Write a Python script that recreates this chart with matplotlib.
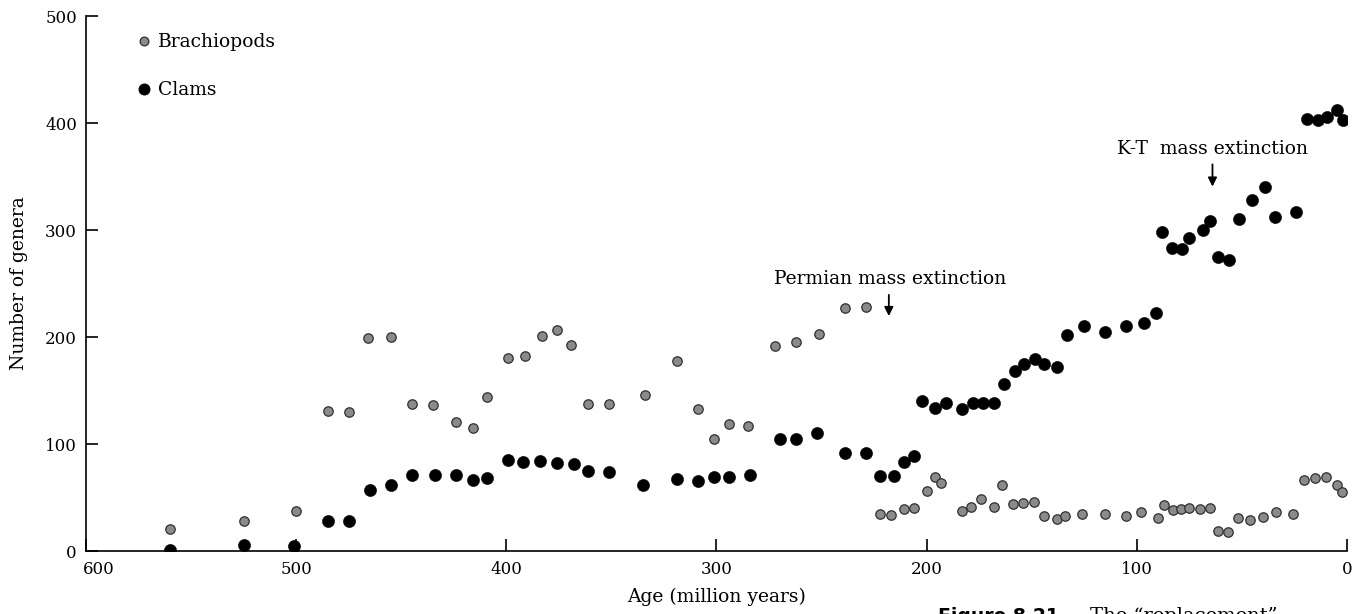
import matplotlib
matplotlib.use("Agg")
import matplotlib.pyplot as plt
import matplotlib.transforms as mtransforms
from matplotlib.lines import Line2D

# ---- data (ages in million years, number of genera) ----
brach_age = [560, 525, 500, 485, 475, 466, 455, 445, 435, 424, 416, 409,
             399, 391, 383, 376, 369, 361, 351, 334, 319, 309, 301, 294,
             285, 272, 262, 251, 239, 229, 222, 217, 211, 206, 200, 196,
             193, 183, 179, 174, 168, 164, 159, 154, 149, 144, 138, 134,
             126, 115, 105, 98, 90, 87, 83, 79, 75, 70, 65, 61.5, 56.5,
             52, 46, 40, 34, 25.5, 20.5, 15.3, 10, 4.6, 2.4]
brach_val = [21, 28, 37, 131, 130, 199, 200, 137, 136, 121, 115, 144,
             180, 182, 201, 207, 193, 137, 137, 146, 178, 133, 105, 119,
             117, 192, 195, 203, 227, 228, 35, 34, 39, 40, 56, 69,
             64, 37, 41, 49, 41, 62, 44, 45, 46, 33, 30, 33,
             35, 35, 33, 36, 31, 43, 38, 39, 40, 39, 40, 19, 18,
             31, 29, 32, 36, 35, 66, 68, 69, 62, 55]

clam_age = [560, 525, 501, 485, 475, 465, 455, 445, 434, 424, 416, 409,
            399, 392, 384, 376, 368, 361, 351, 335, 319, 309, 301, 294,
            284, 270, 262, 252, 239, 229, 222, 215.5, 211, 206, 202, 196,
            191, 183, 178, 173, 168, 163, 158, 153.5, 148.6, 144, 138,
            133, 125, 115, 105, 96.6, 90.7, 88, 83.3, 78.3, 75, 68.6, 65,
            61.5, 56.3, 51.4, 45.4, 39.2, 34.3, 24.3, 19.1, 13.9, 9.3,
            4.7, 1.9]
clam_val = [1, 6, 5, 28, 28, 57, 62, 71, 71, 71, 66, 68,
            85, 83, 84, 82, 81, 75, 74, 62, 67, 65, 69, 69,
            71, 105, 105, 110, 92, 92, 70, 70, 83, 89, 140, 134,
            138, 133, 138, 138, 138, 156, 168, 175, 179, 175, 172,
            202, 210, 205, 210, 213, 222, 298, 283, 282, 293, 300, 308,
            275, 272, 310, 328, 340, 312, 317, 404, 403, 406, 412, 403]

x_ticks = [600, 500, 400, 300, 200, 100, 0]
y_ticks = [0, 100, 200, 300, 400, 500]

# ---- figure ----
plt.rcParams['font.family'] = ['DejaVu Serif']
TFS = 12      # tick labels
LFS = 13.5    # axis labels and annotations
fig = plt.figure(figsize=(13.61, 6.14), dpi=100)
ax = fig.add_axes([0.0632, 0.1026, 0.9265, 0.8713])

ax.scatter(brach_age, brach_val, s=46, color='#8a8a8a', edgecolors='#303030',
           linewidths=0.9, zorder=3)
ax.scatter(clam_age, clam_val, s=76, color='black', edgecolors='black',
           linewidths=0.4, zorder=3)

ax.set_xlim(600, 0)
ax.set_ylim(0, 500)
ax.set_xticks(x_ticks)
ax.set_yticks(y_ticks)
ax.tick_params(direction='in', length=8.5, width=1.2, labelsize=TFS)
ax.tick_params(axis='x', pad=7)
ax.tick_params(axis='y', pad=6.5)
for s in ['top', 'right']:
    ax.spines[s].set_visible(False)
for s in ['left', 'bottom']:
    ax.spines[s].set_linewidth(1.2)

# first x tick label starts at the axis corner, as in the original
fig.canvas.draw()
first = ax.get_xticklabels()[0]
first.set_horizontalalignment('left')
first.set_transform(first.get_transform() +
                    mtransforms.ScaledTranslation(-2 / 72, 0, fig.dpi_scale_trans))

ax.set_xlabel('Age (million years)', fontsize=LFS, labelpad=7)
ax.set_ylabel('Number of genera', fontsize=LFS, labelpad=12)

# annotations
ax.annotate('', xy=(218, 217), xytext=(218, 242),
            arrowprops=dict(arrowstyle='-|>', color='black', lw=1.3,
                            mutation_scale=13))
ax.text(217.2, 254, 'Permian mass extinction', ha='center', va='center',
        fontsize=LFS)
ax.annotate('', xy=(64, 338), xytext=(64, 364),
            arrowprops=dict(arrowstyle='-|>', color='black', lw=1.3,
                            mutation_scale=13))
ax.text(64.2, 375.6, 'K-T  mass extinction', ha='center', va='center',
        fontsize=LFS)

# legend
handles = [Line2D([], [], linestyle='none', marker='o', markersize=6.3,
                  markerfacecolor='#8a8a8a', markeredgecolor='#303030',
                  markeredgewidth=0.9),
           Line2D([], [], linestyle='none', marker='o', markersize=7.6,
                  markerfacecolor='black', markeredgecolor='black')]
ax.legend(handles, ['Brachiopods', 'Clams'], loc='upper left',
          bbox_to_anchor=(0.0404, 0.968), frameon=False, fontsize=LFS,
          handletextpad=0.3, labelspacing=1.6, handlelength=0.8,
          borderaxespad=0, borderpad=0)

# caption of the printed figure, cut by the bottom edge as in the original
fig.text(938 / 1361, 7 / 614, 'Figure 8.21', fontsize=13.5, fontweight='bold',
         family=['DejaVu Sans'], ha='left', va='top')
fig.text(1090 / 1361, 7 / 614, 'The \u201creplacement\u201d', fontsize=14,
         ha='left', va='top')

fig.savefig('out.png', dpi=100)
